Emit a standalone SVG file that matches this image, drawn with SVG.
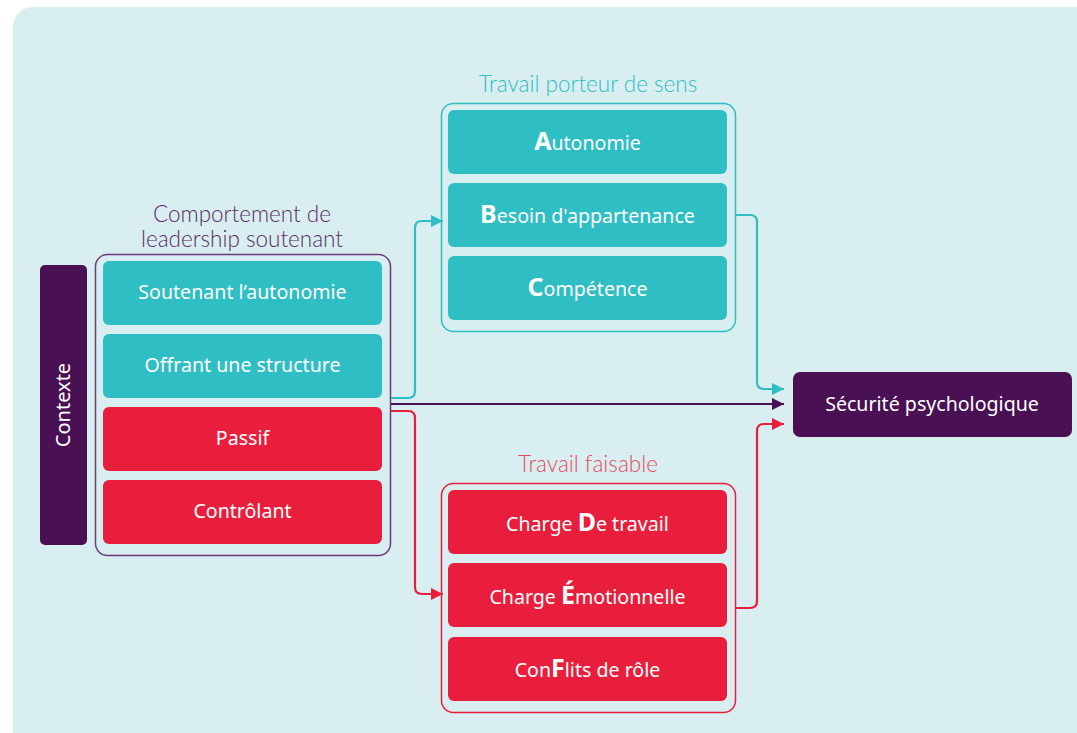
<svg xmlns="http://www.w3.org/2000/svg" width="1077" height="733" viewBox="0 0 1077 733">
  <style>
    .bg { fill: #d8eef0; }
    .teal { fill: #2ebec3; }
    .red { fill: #e81e3c; }
    .dark { fill: #4a1054; }
    .frame { fill: none; stroke-width: 1.5; }
    .lbl { font-family: "Noto Sans", "Open Sans", sans-serif; font-size: 19.6px; fill: #ffffff; text-anchor: middle; }
    .lbl tspan.big { font-weight: 700; font-size: 25px; }
    .ttl { font-family: Lato, "Open Sans", sans-serif; font-weight: 300; font-size: 22.5px; text-anchor: middle; }
    .wire { fill: none; stroke-width: 2.2; stroke-linejoin: round; }
  </style>
  <defs>
    <marker id="arrTeal" viewBox="0 0 10 10" refX="10" refY="5" markerWidth="17" markerHeight="12" markerUnits="userSpaceOnUse" orient="auto">
      <path d="M0,0 L10,5 L0,10 Z" fill="#2ebec3"/>
    </marker>
    <marker id="arrRed" viewBox="0 0 10 10" refX="10" refY="5" markerWidth="17" markerHeight="12" markerUnits="userSpaceOnUse" orient="auto">
      <path d="M0,0 L10,5 L0,10 Z" fill="#e81e3c"/>
    </marker>
    <marker id="arrDark" viewBox="0 0 10 10" refX="10" refY="5" markerWidth="17" markerHeight="12" markerUnits="userSpaceOnUse" orient="auto">
      <path d="M0,0 L10,5 L0,10 Z" fill="#4a1054"/>
    </marker>
  </defs>

  <rect x="0" y="0" width="1077" height="733" fill="#ffffff"/>
  <rect class="bg" x="13" y="7" width="1090" height="760" rx="20"/>

  <!-- Contexte bar -->
  <g id="contexte">
    <rect class="dark" x="40" y="265" width="47" height="280" rx="5"/>
    <text class="lbl" style="font-size:20px" transform="translate(70,405) rotate(-90)">Contexte</text>
  </g>

  <!-- Supportive leadership group -->
  <g id="leadership">
    <text class="ttl" fill="#5a2a6a" x="242" y="222">Comportement de</text>
    <text class="ttl" fill="#5a2a6a" x="242" y="247">leadership soutenant</text>
    <rect class="frame" stroke="#6b3a7a" x="95.5" y="254.5" width="295" height="301" rx="12"/>
  </g>
  <g id="soutenant-autonomie">
    <rect class="teal" x="103" y="261" width="279" height="64" rx="6"/>
    <text class="lbl" x="242.5" y="299">Soutenant l’autonomie</text>
  </g>
  <g id="offrant-structure">
    <rect class="teal" x="103" y="334" width="279" height="64" rx="6"/>
    <text class="lbl" x="242.5" y="372">Offrant une structure</text>
  </g>
  <g id="passif">
    <rect class="red" x="103" y="407" width="279" height="64" rx="6"/>
    <text class="lbl" x="242.5" y="445">Passif</text>
  </g>
  <g id="controlant">
    <rect class="red" x="103" y="480" width="279" height="64" rx="6"/>
    <text class="lbl" x="242.5" y="518">Contrôlant</text>
  </g>

  <!-- Meaningful work group -->
  <g id="travail-porteur">
    <text class="ttl" fill="#2ebec3" x="588" y="92">Travail porteur de sens</text>
    <rect class="frame" stroke="#2ebec3" x="441.5" y="103.5" width="294" height="228" rx="12"/>
  </g>
  <g id="autonomie">
    <rect class="teal" x="448" y="110" width="279" height="64" rx="6"/>
    <text class="lbl" x="587.5" y="150"><tspan class="big">A</tspan>utonomie</text>
  </g>
  <g id="appartenance">
    <rect class="teal" x="448" y="183" width="279" height="64" rx="6"/>
    <text class="lbl" x="587.5" y="223"><tspan class="big">B</tspan>esoin d'appartenance</text>
  </g>
  <g id="competence">
    <rect class="teal" x="448" y="256" width="279" height="64" rx="6"/>
    <text class="lbl" x="587.5" y="296"><tspan class="big">C</tspan>ompétence</text>
  </g>

  <!-- Feasible work group -->
  <g id="travail-faisable">
    <text class="ttl" fill="#e84a5f" x="588" y="472">Travail faisable</text>
    <rect class="frame" stroke="#e81e3c" x="441.5" y="483.5" width="294" height="229" rx="12"/>
  </g>
  <g id="charge-travail">
    <rect class="red" x="448" y="490" width="279" height="64" rx="6"/>
    <text class="lbl" x="587.5" y="531">Charge <tspan class="big">D</tspan>e travail</text>
  </g>
  <g id="charge-emotionnelle">
    <rect class="red" x="448" y="563" width="279" height="64" rx="6"/>
    <text class="lbl" x="587.5" y="604">Charge <tspan class="big">É</tspan>motionnelle</text>
  </g>
  <g id="conflits-role">
    <rect class="red" x="448" y="637" width="279" height="64" rx="6"/>
    <text class="lbl" x="587.5" y="677">Con<tspan class="big">F</tspan>lits de rôle</text>
  </g>

  <!-- Outcome -->
  <g id="securite">
    <rect class="dark" x="793" y="372" width="279" height="65" rx="7"/>
    <text class="lbl" x="932" y="411">Sécurité psychologique</text>
  </g>

  <!-- Connectors -->
  <g id="connectors">
    <path class="wire" stroke="#2ebec3" d="M391,398 H408 Q415,398 415,391 V228 Q415,221 422,221 H443" marker-end="url(#arrTeal)"/>
    <path class="wire" stroke="#e81e3c" d="M391,411 H408 Q415,411 415,418 V587 Q415,594 422,594 H443" marker-end="url(#arrRed)"/>
    <path class="wire" stroke="#4a1054" d="M391,404 H784" marker-end="url(#arrDark)"/>
    <path class="wire" stroke="#2ebec3" d="M736,215 H750 Q757,215 757,222 V382 Q757,389 764,389 H784" marker-end="url(#arrTeal)"/>
    <path class="wire" stroke="#e81e3c" d="M736,608 H750 Q757,608 757,601 V431 Q757,424 764,424 H784" marker-end="url(#arrRed)"/>
  </g>
</svg>
